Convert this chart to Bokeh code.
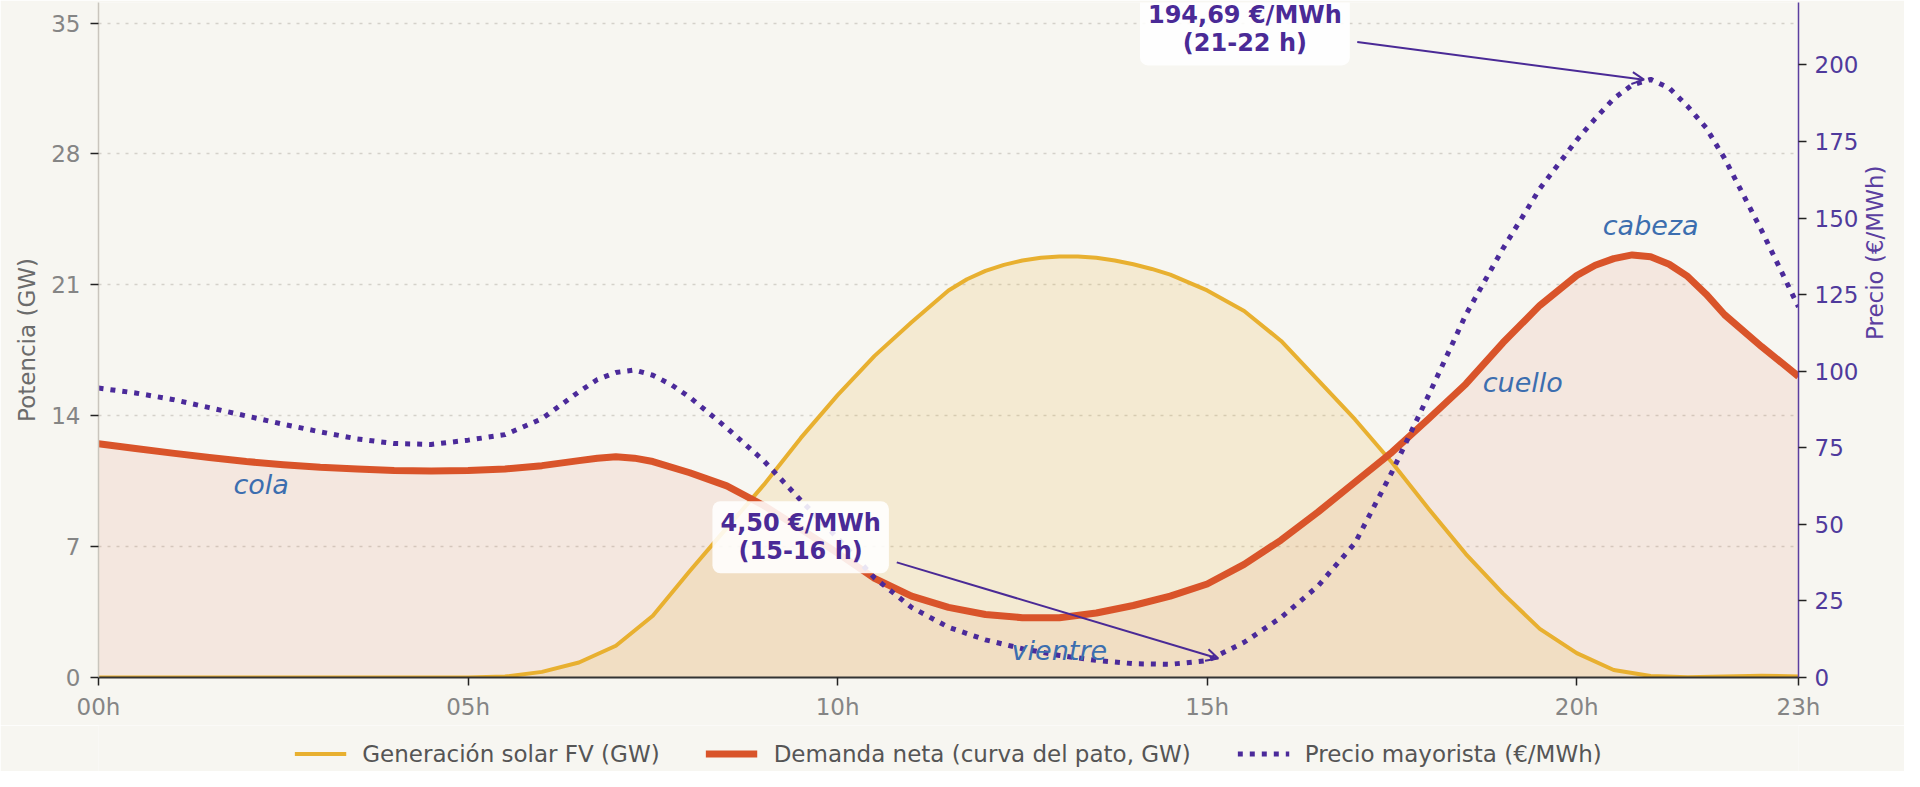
import math
from bokeh.plotting import figure
from bokeh.layouts import column
from bokeh.models import (Range1d, LinearAxis, FixedTicker, Legend, LegendItem,
                          Label, Arrow, OpenHead)
from bokeh.core.properties import value
from bokeh.embed import file_html
from bokeh.resources import INLINE

# ---------------- data ----------------
solar_hours = [0, 0.5, 1, 1.5, 2, 2.5, 3, 3.5, 4, 4.5, 5, 5.5, 6, 6.5, 7, 7.5,
               8, 8.5, 9, 9.5, 10, 10.5, 11, 11.5, 11.75, 12, 12.25, 12.5,
               12.75, 13, 13.25, 13.5, 13.75, 14, 14.25, 14.5, 15, 15.5, 16,
               16.5, 17, 17.5, 18, 18.5, 19, 19.5, 20, 20.5, 21, 21.5, 22,
               22.5, 23]
solar_gw = [0, 0, 0, 0, 0, 0, 0, 0, 0, 0, 0, 0.05, 0.3, 0.8, 1.7, 3.3,
            5.7, 8.0, 10.3, 12.8, 15.1, 17.2, 19.0, 20.7, 21.3, 21.75, 22.07, 22.3,
            22.45, 22.52, 22.52, 22.45, 22.3, 22.1, 21.85, 21.55, 20.7, 19.6, 18.0,
            15.9, 13.8, 11.5, 9.0, 6.6, 4.5, 2.6, 1.3, 0.4, 0.08, 0.02, 0.05,
            0.1, 0.05]

demand_hours = [0, 0.5, 1, 1.5, 2, 2.5, 3, 3.5, 4, 4.5, 5, 5.5, 6, 6.5, 6.75,
                7, 7.25, 7.5, 8, 8.5, 9, 9.5, 10, 10.5, 11, 11.5, 12, 12.5, 13,
                13.5, 14, 14.5, 15, 15.5, 16, 16.5, 17, 17.5, 18, 18.5, 19,
                19.5, 20, 20.25, 20.5, 20.75, 21, 21.25, 21.5, 21.75, 22, 22.5, 23]
net_demand_gw = [12.5, 12.25, 12.0, 11.77, 11.55, 11.38, 11.24, 11.15, 11.07,
                 11.05, 11.07, 11.15, 11.33, 11.6, 11.73, 11.8, 11.73, 11.55,
                 10.95, 10.25, 9.2, 7.95, 6.65, 5.3, 4.35, 3.75, 3.37, 3.2, 3.2,
                 3.45, 3.85, 4.35, 5.0, 6.05, 7.35, 8.85, 10.45, 12.05, 13.85,
                 15.7, 17.9, 19.9, 21.5, 22.05, 22.4, 22.6, 22.5, 22.1, 21.45,
                 20.5, 19.4, 17.7, 16.1]

price_hours = [0, 0.5, 1, 1.5, 2, 2.5, 3, 3.5, 4, 4.5, 5, 5.5, 6, 6.5, 6.75, 7,
               7.25, 7.5, 7.75, 8, 8.5, 9, 9.5, 10, 10.5, 11, 11.5, 12, 12.5,
               13, 13.5, 14, 14.5, 15, 15.5, 16, 16.5, 17, 17.5, 18, 18.5, 19,
               19.5, 20, 20.25, 20.5, 20.75, 21, 21.25, 21.5, 21.75, 22, 22.5, 23]
price_eur_mwh = [94.5, 92.9, 90.8, 88.1, 85.4, 82.7, 80.2, 77.9, 76.4, 76.1,
                 77.5, 79.3, 84.5, 93.3, 97.3, 99.6, 100.4, 98.7, 95.6, 91.5,
                 81.5, 70.8, 57.9, 45.5, 32.5, 22.9, 16.4, 12.3, 9.4, 7.2, 5.6,
                 4.5, 4.3, 5.5, 11.5, 19.6, 29.9, 43.9, 67.1, 92.4, 118.5, 140.0,
                 159.6, 175.5, 182.5, 189.0, 193.5, 195.3, 192.5, 186.5, 179.5,
                 169.5, 146.0, 121.0]

x_ticks = [0, 5, 10, 15, 20, 23]
x_tick_labels = ["00h", "05h", "10h", "15h", "20h", "23h"]
gw_ticks = [0, 7, 14, 21, 28, 35]
price_ticks = [0, 25, 50, 75, 100, 125, 150, 175, 200]

series_names = ["Generación solar FV (GW)",
                "Demanda neta (curva del pato, GW)",
                "Precio mayorista (€/MWh)"]

region_labels = ["cola", "vientre", "cuello", "cabeza"]
region_x = [2.2, 13.0, 19.27, 21.0]
region_y = [10.3, 1.45, 15.8, 24.2]

ann_texts = ["4,50 €/MWh\n(15-16 h)", "194,69 €/MWh\n(21-22 h)"]
ann_x = [9.5, 15.51]
ann_y = [45.8, 211.6]
arrow_x0 = [10.8, 17.03]
arrow_y0 = [37.6, 207.5]
arrow_x1 = [15.15, 20.91]
arrow_y1 = [6.2, 195.2]

# ---------------- style ----------------
BG = "#f7f6f1"
SOLAR = "#e8b030"
DEMAND = "#d9542a"
PRICE = "#4b2a9a"
ANN = "#4a2a96"
REGION = "#3c6eaf"
FONT = "DejaVu Sans"
W = 1904

SOLAR_STYLE = dict(line_color=SOLAR, line_width=4, line_join="round")
DEMAND_STYLE = dict(line_color=DEMAND, line_width=7, line_join="round")
PRICE_STYLE = dict(line_color=PRICE, line_width=5, line_dash="5 7", line_cap="butt")

p = figure(width=W, height=725, output_backend="svg", toolbar_location=None,
           x_range=Range1d(0, 23), y_range=Range1d(0, 36.1),
           min_border_left=98, min_border_right=104, min_border_top=2,
           min_border_bottom=48,
           background_fill_color=BG, border_fill_color=BG)
p.outline_line_color = None
p.extra_y_ranges = {"price": Range1d(0, 220.4)}

# fills
p.varea(x=demand_hours, y1=0, y2=net_demand_gw, fill_color=DEMAND, fill_alpha=0.09)
p.varea(x=solar_hours, y1=0, y2=solar_gw, fill_color=SOLAR, fill_alpha=0.16)

# lines
p.line(solar_hours, solar_gw, **SOLAR_STYLE)
p.line(demand_hours, net_demand_gw, **DEMAND_STYLE)
p.line(price_hours, price_eur_mwh, y_range_name="price", **PRICE_STYLE)

# grid
p.xgrid.visible = False
p.ygrid.ticker = FixedTicker(ticks=gw_ticks)
p.ygrid.grid_line_color = "#d4d1ca"
p.ygrid.grid_line_dash = "3 6"
p.ygrid.grid_line_width = 1.5

# axes
xa = p.xaxis[0]
ya = p.yaxis[0]
ra = LinearAxis(y_range_name="price", ticker=FixedTicker(ticks=price_ticks),
                axis_label="Precio (€/MWh)")
p.add_layout(ra, "right")

xa.ticker = FixedTicker(ticks=x_ticks)
xa.major_label_overrides = {t: l for t, l in zip(x_ticks, x_tick_labels)}
ya.ticker = FixedTicker(ticks=gw_ticks)
ya.axis_label = "Potencia (GW)"

for ax in (xa, ya, ra):
    ax.major_label_text_font = FONT
    ax.major_label_text_font_size = "23px"
    ax.major_tick_in = 0
    ax.major_tick_out = 8
    ax.major_tick_line_width = 1.5
    ax.major_tick_line_color = "#222222"
    ax.minor_tick_line_color = None
    ax.axis_label_text_font = FONT
    ax.axis_label_text_font_size = "23px"
    ax.axis_label_text_font_style = "normal"
    ax.major_label_standoff = 8

xa.axis_line_color = "#333333"
xa.axis_line_width = 2
xa.major_label_text_color = "#858585"

ya.axis_line_color = "#c9c5bd"
ya.axis_line_width = 1.5
ya.major_label_text_color = "#858585"
ya.axis_label_text_color = "#6b6b6b"
ya.major_label_standoff = 10
ya.axis_label_standoff = 8

ra.axis_line_color = "#5b3fa0"
ra.axis_line_width = 1.5
ra.major_label_text_color = "#4f3a9c"
ra.axis_label_text_color = "#5b3fa0"
ra.axis_label_standoff = 14
ra.axis_label_orientation = math.pi / 2

# region labels
p.text(x=region_x, y=region_y, text=region_labels, text_font=value(FONT),
       text_font_style="italic", text_font_size="27px", text_color=REGION,
       text_align="center", text_baseline="alphabetic")

# annotations
for txt, tx, ty, x0, y0, x1, y1 in zip(ann_texts, ann_x, ann_y,
                                       arrow_x0, arrow_y0, arrow_x1, arrow_y1):
    p.add_layout(Label(x=tx, y=ty, y_range_name="price", text=txt,
                       text_font=FONT, text_font_size="24px",
                       text_font_style="bold", text_color=ANN,
                       text_align="center", text_baseline="middle",
                       text_line_height=1.0,
                       background_fill_color="white", background_fill_alpha=0.88,
                       padding=8, border_radius=8))
    p.add_layout(Arrow(x_start=x0, y_start=y0, x_end=x1, y_end=y1,
                       y_range_name="price", line_color=ANN, line_width=2,
                       end=OpenHead(size=12, line_color=ANN, line_width=2)))

# ---------------- legend strip below the chart ----------------
lg = figure(width=W, height=46, output_backend="svg", toolbar_location=None,
            x_range=Range1d(0, 1), y_range=Range1d(0, 1),
            x_axis_location=None, y_axis_location=None,
            min_border_left=98, min_border_right=104, min_border_top=0,
            min_border_bottom=0,
            background_fill_color=BG, border_fill_color=BG)
lg.outline_line_color = None
lg.grid.visible = False
# swatch-only renderers (kept outside the strip's visible range)
k_solar = lg.line([2, 3], [2, 3], **SOLAR_STYLE)
k_dem = lg.line([2, 3], [2, 3], **DEMAND_STYLE)
k_price = lg.line([2, 3], [2, 3], **PRICE_STYLE)

legend = Legend(items=[LegendItem(label=series_names[0], renderers=[k_solar]),
                       LegendItem(label=series_names[1], renderers=[k_dem]),
                       LegendItem(label=series_names[2], renderers=[k_price])],
                location="bottom_center", orientation="horizontal",
                glyph_width=52, glyph_height=27, label_standoff=16, spacing=46,
                padding=0, margin=4, border_line_color=None,
                background_fill_alpha=0, label_text_font=FONT,
                label_text_font_size="23px", label_text_color="#555555")
lg.add_layout(legend, "center")

layout = column(p, lg, spacing=0)
open("out.html", "w").write(file_html(layout, INLINE))
